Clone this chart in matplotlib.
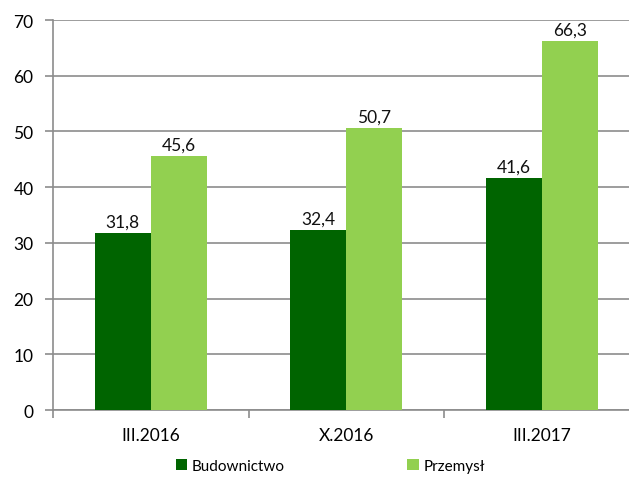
import matplotlib.pyplot as plt
import numpy as np

plt.rcParams['font.family'] = ['Lato', 'DejaVu Sans']

periods = ["III.2016", "X.2016", "III.2017"]
budownictwo = [31.8, 32.4, 41.6]
przemysl = [45.6, 50.7, 66.3]

dark = "#006400"
light = "#92D050"
grid_col = "#8c8c8c"

fig = plt.figure(figsize=(6.29, 4.81), dpi=100)
ax = fig.add_axes([0.0843, 0.1455, 0.9324, 0.8108])

x = np.arange(len(periods))
w = 0.286
b1 = ax.bar(x - w / 2, budownictwo, w, color=dark, label="Budownictwo", zorder=3)
b2 = ax.bar(x + w / 2, przemysl, w, color=light, label="Przemysł", zorder=3)

for bars, vals in ((b1, budownictwo), (b2, przemysl)):
    for rect, v in zip(bars, vals):
        ax.text(rect.get_x() + rect.get_width() / 2, v + 0.6,
                f"{v:.1f}".replace(".", ","), ha="center", va="bottom",
                fontsize=12.5, color="#111111")

ax.set_xlim(-0.5, 2.5)
ax.set_ylim(0, 70)
ax.set_yticks(range(0, 71, 10))
ax.yaxis.grid(True, color=grid_col, linewidth=1.2, zorder=0)
ax.set_axisbelow(True)

ax.set_xticks(x)
ax.set_xticklabels(periods)
ax.set_xticks([-0.5, 0.5, 1.5, 2.5], minor=True)
ax.tick_params(axis="x", which="major", length=0, pad=12, labelsize=12.5)
ax.tick_params(axis="x", which="minor", length=6, color=grid_col, width=1.2)
ax.tick_params(axis="y", length=6, color=grid_col, width=1.2, labelsize=12.5, pad=8)

for side in ("top", "right"):
    ax.spines[side].set_visible(False)
for side in ("left", "bottom"):
    ax.spines[side].set_color(grid_col)
    ax.spines[side].set_linewidth(1.2)

fig.legend(handles=[b1, b2], loc="center", bbox_to_anchor=(0.525, 0.029),
           ncol=2, frameon=False, fontsize=11, handlelength=0.75,
           handleheight=0.75, handletextpad=0.3, columnspacing=8.0)

fig.savefig("out.png", dpi=100)
